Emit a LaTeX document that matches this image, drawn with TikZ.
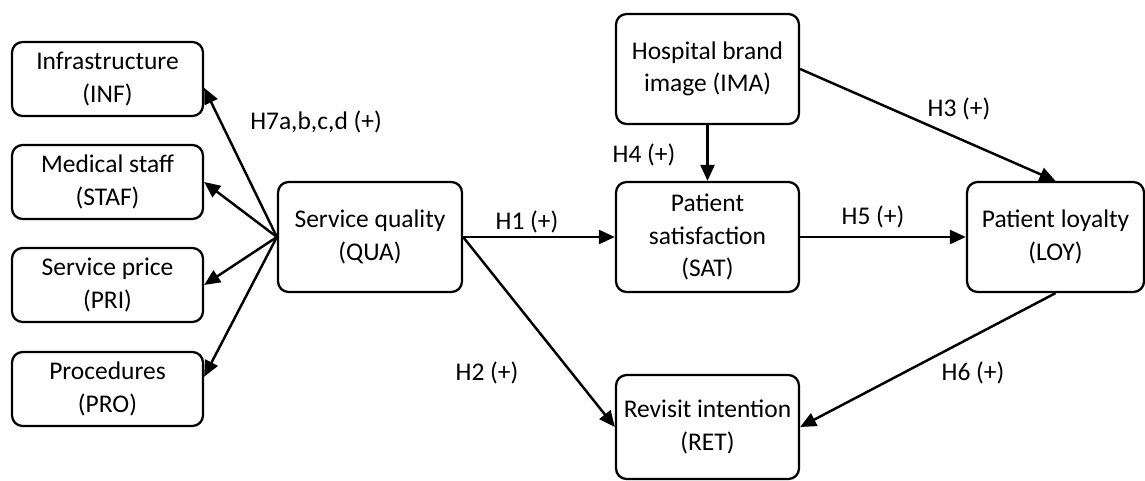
\documentclass[tikz,border=0pt]{standalone}
\usepackage{fontspec}
\setmainfont{Carlito}
\usetikzlibrary{arrows.meta}

\begin{document}
\begin{tikzpicture}[
    x=0.02cm,y=-0.02cm,
    box/.style={draw,rounded corners=6pt,line width=1.3pt,align=center,
        inner sep=0pt,minimum width=3.66cm,minimum height=2.2cm,
        font=\fontsize{14.5}{18.4}\selectfont},
    small/.style={box,minimum width=3.82cm,minimum height=1.48cm},
    arr/.style={line width=1.4pt,-{Triangle[length=0.32cm,width=0.28cm]}},
    lbl/.style={font=\fontsize{14.5}{18.4}\selectfont,inner sep=0pt}
    ]
    \useasboundingbox (0,0) rectangle (1145,480);
    \node[small] (inf) at (107.5,79) {Infrastructure\\(INF)};
    \node[small] (staf) at (107.5,182) {Medical staff\\(STAF)};
    \node[small] (pri) at (107.5,285) {Service price\\(PRI)};
    \node[small] (pro) at (107.5,389) {Procedures\\(PRO)};
    \node[box,minimum width=3.68cm] (qua) at (370,237) {Service quality\\(QUA)};
    \node[box] (ima) at (707.5,69) {Hospital brand\\image (IMA)};
    \node[box] (sat) at (707.5,237) {Patient\\satisfaction\\(SAT)};
    \node[box,minimum width=3.54cm] (loy) at (1055.5,237) {Patient loyalty\\(LOY)};
    \node[box,minimum height=2.08cm] (ret) at (707.5,427) {Revisit intention\\(RET)};
    \draw[arr] (qua.west) -- ([yshift=-5pt]inf.east);
    \draw[arr] (qua.west) -- (staf.east);
    \draw[arr] (qua.west) -- (pri.east);
    \draw[arr] (qua.west) -- ([yshift=7pt]pro.east);
    \draw[arr] (qua.east) -- (sat.west);
    \draw[arr] (qua.east) -- (ret.west);
    \draw[arr] (ima.south) -- (sat.north);
    \draw[arr] (ima.east) -- (loy.north);
    \draw[arr] (sat.east) -- (loy.west);
    \draw[arr] (loy.south) -- (ret.east);
    \node[lbl] (h7) at (316,122) {H7a,b,c,d (+)};
    \node[lbl] (h1) at (527,222) {H1 (+)};
    \node[lbl] (h2) at (487,373) {H2 (+)};
    \node[lbl] (h3) at (959,109) {H3 (+)};
    \node[lbl] (h4) at (644,155) {H4 (+)};
    \node[lbl] (h5) at (873,217) {H5 (+)};
    \node[lbl] (h6) at (973,373) {H6 (+)};
\end{tikzpicture}
\end{document}
